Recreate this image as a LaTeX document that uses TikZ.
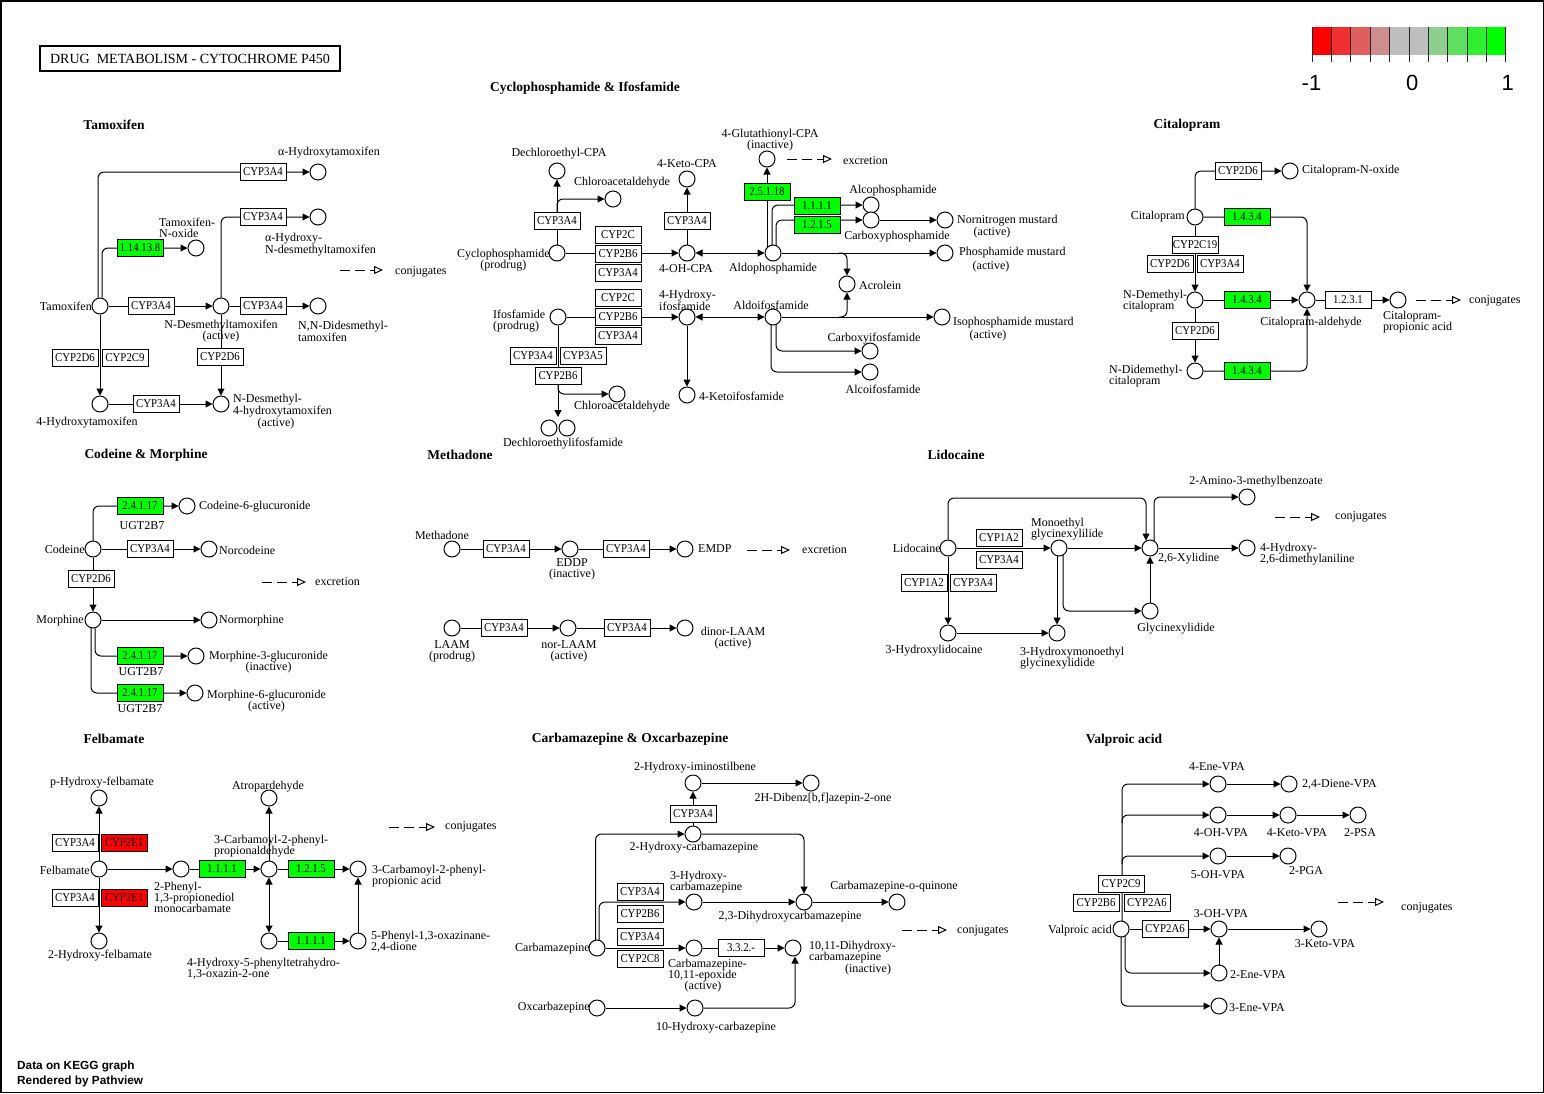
\documentclass[tikz,border=0pt]{standalone}
\usepackage{fontspec}
\setmainfont{Liberation Serif}
\newfontfamily\legendfont{Liberation Sans}
\newfontfamily\genefont[FakeStretch=0.9]{Liberation Serif}
\usetikzlibrary{arrows.meta,backgrounds}
\definecolor{upgreen}{RGB}{0,255,0}
\definecolor{dnred}{RGB}{255,0,0}
\definecolor{leg0}{RGB}{255,0,0}
\definecolor{leg1}{RGB}{239,48,48}
\definecolor{leg2}{RGB}{223,95,95}
\definecolor{leg3}{RGB}{206,142,142}
\definecolor{leg4}{RGB}{190,190,190}
\definecolor{leg5}{RGB}{190,190,190}
\definecolor{leg6}{RGB}{142,206,142}
\definecolor{leg7}{RGB}{95,223,95}
\definecolor{leg8}{RGB}{48,239,48}
\definecolor{leg9}{RGB}{0,255,0}
\tikzset{
  cpd/.style={circle,draw,fill=white,minimum size=16pt,inner sep=0pt,line width=1pt},
  gene/.style={draw,fill=white,minimum width=46pt,minimum height=16.5pt,inner sep=0pt,line width=1pt,font=\genefont\fontsize{12}{12}\selectfont},
  gup/.style={gene,fill=upgreen},
  gdn/.style={gene,fill=dnred},
  lbl/.style={inner sep=0pt,font=\fontsize{12}{11}\selectfont,align=left},
  lblc/.style={lbl,align=center},
  sect/.style={inner sep=0pt,font=\fontsize{13.5}{14}\selectfont\bfseries},
  rx/.style={line width=1pt,-{Triangle[length=7pt,width=7pt]},rounded corners=6pt},
  rxb/.style={line width=1pt,{Triangle[length=7pt,width=7pt]}-{Triangle[length=7pt,width=7pt]}},
  conj/.style={line width=1pt,dash pattern=on 10pt off 5pt,-{Triangle[open,length=9pt,width=8pt]}},
  foot/.style={anchor=west,inner sep=0pt,font=\legendfont\bfseries\fontsize{11.8}{14}\selectfont},
  legnum/.style={inner sep=0pt,font=\legendfont\fontsize{22}{22}\selectfont},
}
\begin{document}
\begin{tikzpicture}[x=1pt,y=-1pt]
\useasboundingbox (0,0) rectangle (1544,1093);
\begin{scope}[on background layer]
  \fill[white] (0,0) rectangle (1544,1093);
\end{scope}
\draw[line width=1.5pt] (0.75,0.75) rectangle (1543.25,1092.25);

% ---------- heading, section titles ----------
\node[draw,line width=2pt,minimum width=300pt,minimum height=25pt,inner sep=0pt,font=\fontsize{14}{14}\selectfont] (ttl) at (190,58.5) {DRUG\ \ METABOLISM - CYTOCHROME P450};
\node[sect] (sTam) at (114,125) {Tamoxifen};
\node[sect] (sCyc) at (585,88) {Cyclophosphamide \& Ifosfamide};
\node[sect] (sCit) at (1187,125) {Citalopram};
\node[sect] (sCod) at (146,455) {Codeine \& Morphine};
\node[sect] (sMet) at (460,455) {Methadone};
\node[sect] (sLid) at (956,455) {Lidocaine};
\node[sect] (sFel) at (114,739) {Felbamate};
\node[sect] (sCbz) at (630,739) {Carbamazepine \& Oxcarbazepine};
\node[sect] (sVpa) at (1124,740) {Valproic acid};

% ---------- Tamoxifen ----------
\node[cpd] (tam) at (100,306) {};
\node[lbl,anchor=east] (tamL) at (92,306) {Tamoxifen};
\node[cpd] (ahtam) at (318,172) {};
\node[lbl] (ahtamL) at (329,153) {α-Hydroxytamoxifen};
\node[gene] (tg1) at (263,172) {CYP3A4};
\node[gup] (tg2) at (140,248) {1.14.13.8};
\node[cpd] (tno) at (196,248) {};
\node[lbl,anchor=west] (tnoL) at (159,228) {Tamoxifen-\\N-oxide};
\node[gene] (tg3) at (263,217) {CYP3A4};
\node[cpd] (ahdt) at (318,217) {};
\node[lbl,anchor=west] (ahdtL) at (265,245) {α-Hydroxy-\\N-desmethyltamoxifen};
\coordinate (tcj1) at (340,270); \coordinate (tcj2) at (383,270);
\node[lbl,anchor=west] (tcjL) at (395,272) {conjugates};
\node[gene] (tg4) at (151,306) {CYP3A4};
\node[cpd] (ndt) at (221,306) {};
\node[lblc] (ndtL) at (221,331) {N-Desmethyltamoxifen\\(active)};
\node[gene] (tg5) at (263,306) {CYP3A4};
\node[cpd] (nndt) at (318,306) {};
\node[lbl,anchor=west] (nndtL) at (298,331) {N,N-Didesmethyl-\\tamoxifen};
\node[gene] (tg6) at (75,358) {CYP2D6};
\node[gene] (tg7) at (125,358) {CYP2C9};
\node[gene] (tg8) at (220,357) {CYP2D6};
\node[cpd] (oht) at (100,404) {};
\node[lbl] (ohtL) at (87,423) {4-Hydroxytamoxifen};
\node[gene] (tg9) at (156,404) {CYP3A4};
\node[cpd] (ndoht) at (221,404) {};
\node[lbl,anchor=west] (ndohtL) at (233,406) {N-Desmethyl-\\4-hydroxytamoxifen};
\node[lbl] (ndohtL2) at (276,424) {(active)};

% ---------- Cyclophosphamide & Ifosfamide ----------
\node[cpd] (cpa) at (557,253) {};
\node[lblc,anchor=east] (cpaL) at (550,260) {Cyclophosphamide\\(prodrug)};
\node[cpd] (dcpa) at (557,171) {};
\node[lbl] (dcpaL) at (559,154) {Dechloroethyl-CPA};
\node[gene] (cg1) at (557,221) {CYP3A4};
\node[cpd] (cla1) at (613,199) {};
\node[lbl] (cla1L) at (622,183) {Chloroacetaldehyde};
\node[gene] (cg2) at (618,235) {CYP2C};
\node[gene] (cg3) at (618,254) {CYP2B6};
\node[gene] (cg4) at (618,273) {CYP3A4};
\node[cpd] (ohcpa) at (687,253) {};
\node[lbl] (ohcpaL) at (686,269) {4-OH-CPA};
\node[cpd] (kcpa) at (687,179) {};
\node[lbl] (kcpaL) at (687,164) {4-Keto-CPA};
\node[gene] (cg5) at (687,221) {CYP3A4};
\node[cpd] (aldo) at (773,253) {};
\node[lbl] (aldoL) at (773,269) {Aldophosphamide};
\node[cpd] (gcpa) at (767,159) {};
\node[lblc] (gcpaL) at (770,140) {4-Glutathionyl-CPA\\(inactive)};
\node[gup] (cg6) at (767,192) {2.5.1.18};
\coordinate (ccj1) at (787,159); \coordinate (ccj2) at (832,159);
\node[lbl,anchor=west] (ccjL) at (843,161) {excretion};
\node[gup] (cg7) at (817,206) {1.1.1.1};
\node[cpd] (alco) at (871,205) {};
\node[lbl] (alcoL) at (893,191) {Alcophosphamide};
\node[gup] (cg8) at (817,225) {1.2.1.5};
\node[cpd] (carbp) at (871,220) {};
\node[lbl] (carbpL) at (897,237) {Carboxyphosphamide};
\node[cpd] (nnm) at (945,220) {};
\node[lbl,anchor=west] (nnmL) at (957,221) {Nornitrogen mustard};
\node[lbl] (nnmL2) at (992,233) {(active)};
\node[cpd] (pm) at (945,253) {};
\node[lbl,anchor=west] (pmL) at (959,253) {Phosphamide mustard};
\node[lbl] (pmL2) at (991,267) {(active)};
\node[cpd] (acro) at (847,284) {};
\node[lbl,anchor=west] (acroL) at (859,285) {Acrolein};
\coordinate (ab1) at (839,253); \coordinate (ab2) at (839,317);
\node[cpd] (ifo) at (558,317) {};
\node[lbl,anchor=west] (ifoL) at (493,321) {Ifosfamide\\(prodrug)};
\node[gene] (cg9) at (618,298) {CYP2C};
\node[gene] (cg10) at (618,317) {CYP2B6};
\node[gene] (cg11) at (618,336) {CYP3A4};
\node[cpd] (ohifo) at (687,317) {};
\node[lbl,anchor=west] (ohifoL) at (659,300) {4-Hydroxy-\\ifosfamide};
\node[cpd] (aldoi) at (773,317) {};
\node[lbl] (aldoiL) at (771,305) {Aldoifosfamide};
\node[cpd] (kifo) at (687,395) {};
\node[lbl,anchor=west] (kifoL) at (699,396) {4-Ketoifosfamide};
\node[cpd] (cxifo) at (870,351) {};
\node[lbl] (cxifoL) at (874,339) {Carboxyifosfamide};
\node[cpd] (alcifo) at (870,372) {};
\node[lbl] (alcifoL) at (883,389) {Alcoifosfamide};
\node[cpd] (ism) at (942,317) {};
\node[lbl,anchor=west] (ismL) at (953,323) {Isophosphamide mustard};
\node[lbl] (ismL2) at (988,336) {(active)};
\node[cpd] (dcifa) at (549,428) {};
\node[cpd] (dcifb) at (567,428) {};
\coordinate (dcif) at (558,417);
\node[lbl] (dcifL) at (563,444) {Dechloroethylifosfamide};
\node[gene] (cg12) at (533,356) {CYP3A4};
\node[gene] (cg13) at (583,356) {CYP3A5};
\node[gene] (cg14) at (558,376) {CYP2B6};
\node[cpd] (cla2) at (617,394) {};
\node[lbl] (cla2L) at (622,407) {Chloroacetaldehyde};

% ---------- Citalopram ----------
\node[cpd] (cit) at (1195,217) {};
\node[lbl,anchor=east] (citL) at (1185,217) {Citalopram};
\node[cpd] (cno) at (1290,171) {};
\node[lbl,anchor=west] (cnoL) at (1302,171) {Citalopram-N-oxide};
\node[gene] (kg1) at (1238,171) {CYP2D6};
\node[gup] (kg2) at (1247,217) {1.4.3.4};
\node[gene] (kg3) at (1195,245) {CYP2C19};
\node[gene] (kg4) at (1170,264) {CYP2D6};
\node[gene] (kg5) at (1220,264) {CYP3A4};
\node[cpd] (ndc) at (1195,300) {};
\node[lbl,anchor=west] (ndcL) at (1123,301) {N-Demethyl-\\citalopram};
\node[gup] (kg6) at (1247,300) {1.4.3.4};
\node[cpd] (cald) at (1307,300) {};
\node[lbl] (caldL) at (1311,323) {Citalopram-aldehyde};
\node[gene] (kg7) at (1348,300) {1.2.3.1};
\node[cpd] (cpra) at (1398,300) {};
\node[lbl,anchor=west] (cpraL) at (1383,322) {Citalopram-\\propionic acid};
\coordinate (kcj1) at (1416,300); \coordinate (kcj2) at (1461,300);
\node[lbl,anchor=west] (kcjL) at (1469,301) {conjugates};
\node[gene] (kg8) at (1195,331) {CYP2D6};
\node[cpd] (nddc) at (1195,371) {};
\node[lbl,anchor=west] (nddcL) at (1109,376) {N-Didemethyl-\\citalopram};
\node[gup] (kg9) at (1247,371) {1.4.3.4};

% ---------- Codeine & Morphine ----------
\node[cpd] (cod) at (93,549) {};
\node[lbl,anchor=east] (codL) at (85,549) {Codeine};
\node[gup] (mg1) at (140,506) {2.4.1.17};
\node[lbl] (mg1L) at (142,526) {UGT2B7};
\node[cpd] (c6g) at (187,506) {};
\node[lbl,anchor=west] (c6gL) at (199,507) {Codeine-6-glucuronide};
\node[gene] (mg2) at (150,549) {CYP3A4};
\node[cpd] (norc) at (209,549) {};
\node[lbl,anchor=west] (norcL) at (219,550) {Norcodeine};
\node[gene] (mg3) at (91,579) {CYP2D6};
\node[cpd] (mor) at (93,620) {};
\node[lbl,anchor=east] (morL) at (84,621) {Morphine};
\node[cpd] (nmor) at (209,620) {};
\node[lbl,anchor=west] (nmorL) at (219,621) {Normorphine};
\node[gup] (mg4) at (140,656) {2.4.1.17};
\node[lbl] (mg4L) at (141,672) {UGT2B7};
\node[cpd] (m3g) at (196,656) {};
\node[lblc,anchor=west] (m3gL) at (209,662) {Morphine-3-glucuronide\\(inactive)};
\node[gup] (mg5) at (140,693) {2.4.1.17};
\node[lbl] (mg5L) at (140,709) {UGT2B7};
\node[cpd] (m6g) at (195,693) {};
\node[lblc,anchor=west] (m6gL) at (207,701) {Morphine-6-glucuronide\\(active)};
\coordinate (mcj1) at (262,582); \coordinate (mcj2) at (306,582);
\node[lbl,anchor=west] (mcjL) at (315,582) {excretion};

% ---------- Methadone ----------
\node[cpd] (meth) at (452,549) {};
\node[lbl] (methL) at (442,535) {Methadone};
\node[gene] (dg1) at (506,549) {CYP3A4};
\node[cpd] (eddp) at (570,549) {};
\node[lblc] (eddpL) at (572,569) {EDDP\\(inactive)};
\node[gene] (dg2) at (626,549) {CYP3A4};
\node[cpd] (emdp) at (685,549) {};
\node[lbl,anchor=west] (emdpL) at (698,549) {EMDP};
\coordinate (dcj1) at (747,550); \coordinate (dcj2) at (790,550);
\node[lbl,anchor=west] (dcjL) at (802,550) {excretion};
\node[cpd] (laam) at (452,628) {};
\node[lblc] (laamL) at (452,651) {LAAM\\(prodrug)};
\node[gene] (dg3) at (504,628) {CYP3A4};
\node[cpd] (nlaam) at (568,628) {};
\node[lblc] (nlaamL) at (569,651) {nor-LAAM\\(active)};
\node[gene] (dg4) at (627,628) {CYP3A4};
\node[cpd] (dlaam) at (685,628) {};
\node[lblc] (dlaamL) at (733,638) {dinor-LAAM\\(active)};

% ---------- Lidocaine ----------
\node[cpd] (lid) at (948,548) {};
\node[lbl,anchor=east] (lidL) at (941,548) {Lidocaine};
\node[gene] (lg1) at (999,538) {CYP1A2};
\node[gene] (lg2) at (999,560) {CYP3A4};
\node[cpd] (meg) at (1059,548) {};
\node[lbl,anchor=west] (megL) at (1031,529) {Monoethyl\\glycinexylilide};
\node[cpd] (xyl) at (1150,548) {};
\node[lbl,anchor=west] (xylL) at (1158,559) {2,6-Xylidine};
\node[cpd] (amb) at (1247,497) {};
\node[lbl] (ambL) at (1256,482) {2-Amino-3-methylbenzoate};
\node[cpd] (hdma) at (1247,548) {};
\node[lbl,anchor=west] (hdmaL) at (1260,554) {4-Hydroxy-\\2,6-dimethylaniline};
\coordinate (lcj1) at (1275,517); \coordinate (lcj2) at (1320,517);
\node[lbl,anchor=west] (lcjL) at (1335,517) {conjugates};
\node[gene] (lg3) at (924,583) {CYP1A2};
\node[gene] (lg4) at (973,583) {CYP3A4};
\node[cpd] (hlid) at (948,633) {};
\node[lbl] (hlidL) at (934,651) {3-Hydroxylidocaine};
\node[cpd] (hmeg) at (1057,633) {};
\node[lbl,anchor=west] (hmegL) at (1020,658) {3-Hydroxymonoethyl\\glycinexylidide};
\node[cpd] (gx) at (1150,611) {};
\node[lbl] (gxL) at (1176,629) {Glycinexylidide};
\coordinate (ltop) at (948,498);

% ---------- Felbamate ----------
\node[cpd] (fel) at (99,869) {};
\node[lbl,anchor=east] (felL) at (90,870) {Felbamate};
\node[cpd] (phf) at (99,798) {};
\node[lbl] (phfL) at (102,783) {p-Hydroxy-felbamate};
\node[gene] (fg1) at (75,843) {CYP3A4};
\node[gdn] (fg2) at (124,843) {CYP2E1};
\node[gene] (fg3) at (75,898) {CYP3A4};
\node[gdn] (fg4) at (124,898) {CYP2E1};
\node[cpd] (ohf) at (99,941) {};
\node[lbl] (ohfL) at (100,956) {2-Hydroxy-felbamate};
\node[cpd] (ppd) at (181,869) {};
\node[lbl,anchor=west] (ppdL) at (154,897) {2-Phenyl-\\1,3-propionediol\\monocarbamate};
\node[gup] (fg5) at (222,869) {1.1.1.1};
\node[cpd] (cpp) at (269,869) {};
\node[lbl,anchor=west] (cppL) at (214,846) {3-Carbamoyl-2-phenyl-\\propionaldehyde};
\node[cpd] (atr) at (269,798) {};
\node[lbl] (atrL) at (268,787) {Atropardehyde};
\node[gup] (fg6) at (311,869) {1.2.1.5};
\node[cpd] (cppa) at (358,869) {};
\node[lbl,anchor=west] (cppaL) at (372,876) {3-Carbamoyl-2-phenyl-\\propionic acid};
\node[cpd] (hpo) at (269,941) {};
\node[lbl,anchor=west] (hpoL) at (187,969) {4-Hydroxy-5-phenyltetrahydro-\\1,3-oxazin-2-one};
\node[gup] (fg7) at (311,941) {1.1.1.1};
\node[cpd] (pod) at (358,941) {};
\node[lbl,anchor=west] (podL) at (371,942) {5-Phenyl-1,3-oxazinane-\\2,4-dione};
\coordinate (fcj1) at (389,827); \coordinate (fcj2) at (435,827);
\node[lbl,anchor=west] (fcjL) at (445,827) {conjugates};

% ---------- Carbamazepine & Oxcarbazepine ----------
\node[cpd] (his) at (693,783) {};
\node[lbl] (hisL) at (695,768) {2-Hydroxy-iminostilbene};
\node[cpd] (dbz) at (811,783) {};
\node[lbl] (dbzL) at (823,799) {2H-Dibenz[b,f]azepin-2-one};
\node[gene] (bg1) at (693,814) {CYP3A4};
\node[cpd] (hcz) at (693,834) {};
\node[lbl] (hczL) at (694,848) {2-Hydroxy-carbamazepine};
\node[cpd] (cbz) at (597,948) {};
\node[lbl,anchor=east] (cbzL) at (590,949) {Carbamazepine};
\node[cpd] (h3cz) at (694,902) {};
\node[lbl,anchor=west] (h3czL) at (670,882) {3-Hydroxy-\\carbamazepine};
\node[gene] (bg2) at (640,892) {CYP3A4};
\node[gene] (bg3) at (640,914) {CYP2B6};
\node[cpd] (dhcz) at (804,902) {};
\node[lbl] (dhczL) at (790,917) {2,3-Dihydroxycarbamazepine};
\node[cpd] (cq) at (897,902) {};
\node[lbl] (cqL) at (894,887) {Carbamazepine-o-quinone};
\node[gene] (bg4) at (640,937) {CYP3A4};
\node[gene] (bg5) at (640,959) {CYP2C8};
\node[cpd] (epx) at (694,948) {};
\node[lbl,anchor=west] (epxL) at (668,970) {Carbamazepine-\\10,11-epoxide};
\node[lbl] (epxL2) at (703,987) {(active)};
\node[gene] (bg6) at (741,948) {3.3.2.-};
\node[cpd] (dhc) at (793,948) {};
\node[lbl,anchor=west] (dhcL) at (809,952) {10,11-Dihydroxy-\\carbamazepine};
\node[lbl] (dhcL2) at (868,970) {(inactive)};
\node[cpd] (oxc) at (597,1008) {};
\node[lbl,anchor=east] (oxcL) at (590,1008) {Oxcarbazepine};
\node[cpd] (ohcb) at (695,1008) {};
\node[lbl] (ohcbL) at (716,1028) {10-Hydroxy-carbazepine};
\coordinate (bcj1) at (902,930); \coordinate (bcj2) at (947,930);
\node[lbl,anchor=west] (bcjL) at (957,931) {conjugates};

% ---------- Valproic acid ----------
\node[cpd] (vpa) at (1121,929) {};
\node[lbl,anchor=east] (vpaL) at (1112,931) {Valproic acid};
\node[gene] (vg1) at (1121,884) {CYP2C9};
\node[gene] (vg2) at (1096,903) {CYP2B6};
\node[gene] (vg3) at (1147,903) {CYP2A6};
\node[cpd] (e4) at (1218,784) {};
\node[lbl] (e4L) at (1217,767) {4-Ene-VPA};
\node[cpd] (d24) at (1289,784) {};
\node[lbl,anchor=west] (d24L) at (1302,784) {2,4-Diene-VPA};
\node[cpd] (oh4) at (1218,815) {};
\node[lbl] (oh4L) at (1221,833) {4-OH-VPA};
\node[cpd] (k4v) at (1288,815) {};
\node[lbl] (k4vL) at (1297,833) {4-Keto-VPA};
\node[cpd] (psa) at (1358,815) {};
\node[lbl] (psaL) at (1360,833) {2-PSA};
\node[cpd] (oh5) at (1218,856) {};
\node[lbl] (oh5L) at (1218,875) {5-OH-VPA};
\node[cpd] (pga) at (1288,856) {};
\node[lbl] (pgaL) at (1306,871) {2-PGA};
\node[gene] (vg4) at (1165,929) {CYP2A6};
\node[cpd] (oh3) at (1219,929) {};
\node[lbl] (oh3L) at (1221,914) {3-OH-VPA};
\node[cpd] (k3v) at (1319,929) {};
\node[lbl] (k3vL) at (1325,944) {3-Keto-VPA};
\node[cpd] (e2) at (1219,973) {};
\node[lbl,anchor=west] (e2L) at (1230,975) {2-Ene-VPA};
\node[cpd] (e3) at (1219,1006) {};
\node[lbl,anchor=west] (e3L) at (1229,1008) {3-Ene-VPA};
\coordinate (vb1) at (1122,823); \coordinate (vb2) at (1122,864);
\coordinate (vcj1) at (1338,902); \coordinate (vcj2) at (1384,902);
\node[lbl,anchor=west] (vcjL) at (1401,908) {conjugates};

% ---------- connectors (behind the boxes and circles) ----------
\begin{scope}[on background layer]
  % Tamoxifen
  \draw[rx] ([xshift=-2pt]tam.north) |- (ahtam);
  \draw[rx] ([xshift=2pt]tam.north) |- (tno);
  \draw[rx] (tam) -- (ndt);
  \draw[rx] (ndt) |- (ahdt);
  \draw[rx] (ndt) -- (nndt);
  \draw[rx] (tam) -- (oht);
  \draw[rx] (oht) -- (ndoht);
  \draw[rx] (ndt) -- (ndoht);
  \draw[conj] (tcj1) -- (tcj2);
  % Cyclophosphamide & Ifosfamide
  \draw[rx] (cpa) -- (dcpa);
  \draw[rx] (cg1.north) |- (cla1);
  \draw[rx] (cpa) -- (ohcpa);
  \draw[rx] (ohcpa) -- (kcpa);
  \draw[rxb] (ohcpa) -- (aldo);
  \draw[rx] ([xshift=-6pt]aldo.center) -- (gcpa);
  \draw[rx] ([xshift=-1pt]aldo.center) |- (alco);
  \draw[rx] ([xshift=3pt]aldo.center) |- (carbp);
  \draw[rx] (carbp) -- (nnm);
  \draw[rx] (aldo) -- (pm);
  \draw[rx] (ab1) -| (acro);
  \draw[rx] (ab2) -| (acro);
  \draw[rx] (ifo) -- (ohifo);
  \draw[rxb] (ohifo) -- (aldoi);
  \draw[rx] (ohifo) -- (kifo);
  \draw[rx] (aldoi) -- (ism);
  \draw[rx] ([xshift=3pt]aldoi.center) |- (cxifo);
  \draw[rx] ([xshift=-2pt]aldoi.center) |- (alcifo);
  \draw[rx] (ifo) -- (dcif);
  \draw[rx] (cg14.south) |- (cla2);
  \draw[conj] (ccj1) -- (ccj2);
  % Citalopram
  \draw[rx] (cit) |- (cno);
  \draw[rx] (cit) -| (cald);
  \draw[rx] (cit) -- (ndc);
  \draw[rx] (ndc) -- (cald);
  \draw[rx] (cald) -- (cpra);
  \draw[rx] (ndc) -- (nddc);
  \draw[rx] (nddc) -| (cald);
  \draw[conj] (kcj1) -- (kcj2);
  % Codeine & Morphine
  \draw[rx] (cod) |- (c6g);
  \draw[rx] (cod) -- (norc);
  \draw[rx] (cod) -- (mor);
  \draw[rx] (mor) -- (nmor);
  \draw[rx] ([xshift=2pt]mor.center) |- (m3g);
  \draw[rx] ([xshift=-2pt]mor.center) |- (m6g);
  \draw[conj] (mcj1) -- (mcj2);
  % Methadone
  \draw[rx] (meth) -- (eddp);
  \draw[rx] (eddp) -- (emdp);
  \draw[rx] (laam) -- (nlaam);
  \draw[rx] (nlaam) -- (dlaam);
  \draw[conj] (dcj1) -- (dcj2);
  % Lidocaine
  \draw[rx] (lid) -- (meg);
  \draw[rx] (lid) -- (ltop) -| ([xshift=-4pt,yshift=-1pt]xyl.north);
  \draw[rx] ([xshift=4pt]xyl.center) |- (amb);
  \draw[rx] (meg) -- (xyl);
  \draw[rx] (xyl) -- (hdma);
  \draw[rx] (lid) -- (hlid);
  \draw[rx] (hlid) -- (hmeg);
  \draw[rx] (meg.center -| hmeg.center) -- (hmeg);
  \draw[rx] ([xshift=4pt]meg.center) |- (gx);
  \draw[rx] (gx) -- (xyl);
  \draw[conj] (lcj1) -- (lcj2);
  % Felbamate
  \draw[rx] (fel) -- (phf);
  \draw[rx] (fel) -- (ohf);
  \draw[rx] (fel) -- (ppd);
  \draw[rx] (ppd) -- (cpp);
  \draw[rx] (cpp) -- (atr);
  \draw[rxb] (cpp) -- (hpo);
  \draw[rx] (cpp) -- (cppa);
  \draw[rx] (hpo) -- (pod);
  \draw[rx] (pod) -- (cppa);
  \draw[conj] (fcj1) -- (fcj2);
  % Carbamazepine & Oxcarbazepine
  \draw[rx] ([xshift=-1.5pt]cbz.center) |- (hcz);
  \draw[rx] ([xshift=2pt]cbz.center) |- (h3cz);
  \draw[rx] (cbz) -- (epx);
  \draw[rx] (hcz) -- (his);
  \draw[rx] (his) -- (dbz);
  \draw[rx] (hcz) -| (dhcz);
  \draw[rx] (h3cz) -- (dhcz);
  \draw[rx] (dhcz) -- (cq);
  \draw[rx] (epx) -- (dhc);
  \draw[rx] (oxc) -- (ohcb);
  \draw[rx] (ohcb) -| ([xshift=2pt]dhc.south);
  \draw[conj] (bcj1) -- (bcj2);
  % Valproic acid
  \draw[rx] ([xshift=1pt]vpa.center) |- (e4);
  \draw[rx] (vb1) |- (oh4);
  \draw[rx] (vb2) |- (oh5);
  \draw[rx] (e4) -- (d24);
  \draw[rx] (oh4) -- (k4v);
  \draw[rx] (k4v) -- (psa);
  \draw[rx] (oh5) -- (pga);
  \draw[rx] (vpa) -- (oh3);
  \draw[rx] (oh3) -- (k3v);
  \draw[rx] (e2) -- (oh3);
  \draw[rx] ([xshift=4pt]vpa.center) |- (e2);
  \draw[rx] (vpa.center) |- (e3);
  \draw[conj] (vcj1) -- (vcj2);
\end{scope}

% ---------- colour key ----------
\foreach \c [count=\i from 0] in {leg0,leg1,leg2,leg3,leg4,leg5,leg6,leg7,leg8,leg9}
  \fill[\c] ({1312.3+19.34*\i},27) rectangle ({1312.3+19.34*(\i+1)},55);
\foreach \i in {0,...,10}
  \draw[line width=1pt,black!85] ({1312.3+19.34*\i},27) -- ({1312.3+19.34*\i},62);
\node[legnum] (legLo) at (1311.5,83) {-1};
\node[legnum] (legMid) at (1412.3,83) {0};
\node[legnum] (legHi) at (1507.7,83) {1};

% ---------- footer ----------
\node[foot] (ft1) at (17,1066) {Data on KEGG graph};
\node[foot] (ft2) at (17,1081) {Rendered by Pathview};
\end{tikzpicture}
\end{document}
